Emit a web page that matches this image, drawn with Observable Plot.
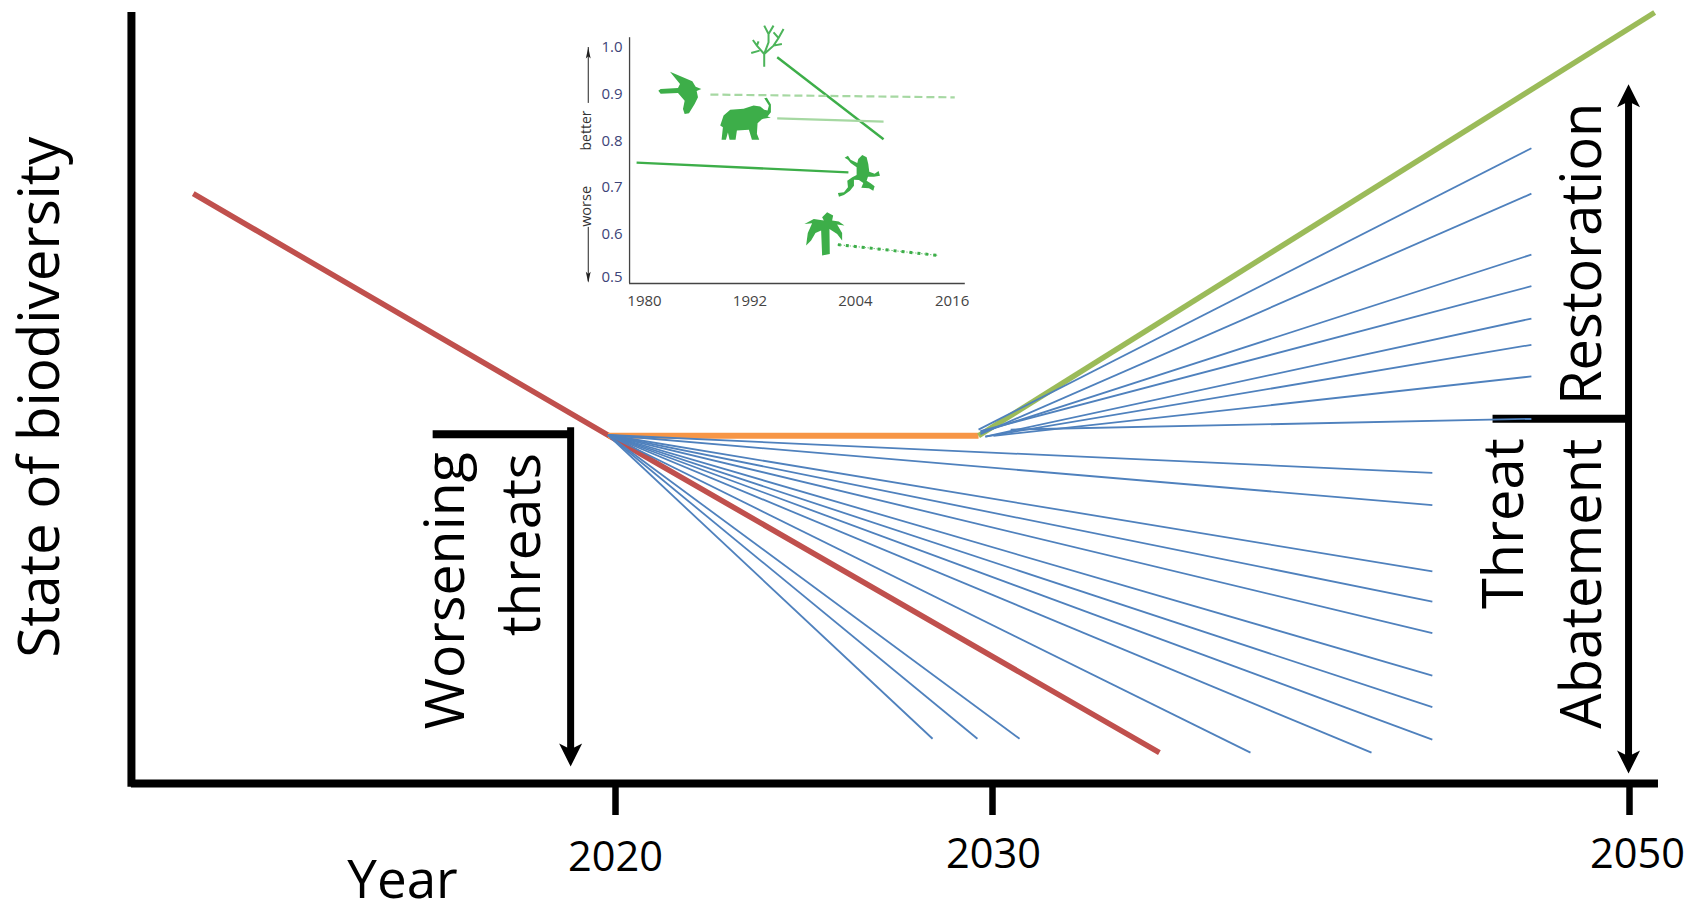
<!DOCTYPE html>
<html>
<head>
<meta charset="utf-8">
<style>
html,body{margin:0;padding:0;background:#fff;}
#wrap{position:relative;width:1700px;height:902px;overflow:hidden;}
#wrap svg{position:absolute;left:0;top:0;display:block;background:transparent;}
</style>
<script src="https://cdn.jsdelivr.net/npm/d3@7"></script>
<script src="https://cdn.jsdelivr.net/npm/@observablehq/plot@0.6"></script>
</head>
<body>
<div id="wrap"></div>
<script>
// ---- main chart data: x = year, y = state of biodiversity (arbitrary 0-100 index)
const tickYears = [2020, 2030, 2050];
const tickLabelYears = [2020, 2030.03, 2050.25];
const tickLabelStates = [-11.3, -11.0, -11.0];
const tickLabels = ["2020", "2030", "2050"];

const bauYears = [2008.8, 2019.8, 2035.24];
const bauStates = [76.5, 45.2, 4.0];
const plateauYears = [2019.8, 2029.63];
const plateauStates = [45.1, 45.1];
const recoveryYears = [2029.63, 2050.79];
const recoveryStates = [45.1, 100.0];

const fanOriginYear = 2019.8;
const fanOriginState = 45.2;
const lowerEndYears = [2043.81, 2043.81, 2043.81, 2043.81, 2043.81, 2043.81, 2043.81, 2043.81, 2041.9, 2038.1, 2030.85, 2029.6, 2028.41];
const lowerEndStates = [40.3, 36.1, 27.5, 23.6, 19.5, 14.0, 9.9, 5.7, 4.0, 4.0, 5.8, 5.8, 5.8];

const upperStartYears = [2029.63, 2029.68, 2029.68, 2029.68, 2029.81, 2029.81, 2030.03, 2030.57];
const upperStartStates = [45.9, 45.3, 45.5, 45.7, 45.0, 45.0, 45.1, 45.9];
const upperEndYears = [2046.92, 2046.92, 2046.92, 2046.92, 2046.92, 2046.92, 2046.92, 2046.92];
const upperEndStates = [82.4, 76.5, 68.6, 64.5, 60.3, 56.9, 52.8, 47.3];

const annotationTexts = ["State of biodiversity", "Worsening", "threats", "Threat", "Abatement", "Restoration"];
const annotationYears = [2005.23, 2015.97, 2018.01, 2046.67, 2049.09, 2049.12];
const annotationStates = [50.1, 25.0, 31.0, 33.7, 25.9, 68.7];
const annotationSizes = [56.5, 55.5, 55, 56, 56, 56];

// ---- inset data: x = year, y = index
const insetYLabels = [1.0, 0.9, 0.8, 0.7, 0.6, 0.5];
const insetYLabelPos = [1.0, 0.9, 0.8, 0.7, 0.6, 0.507];
const insetXLabels = [1980, 1992, 2004, 2016];
const insetXLabelPos = [1980, 1992, 2004, 2015];

const taxaNames = ["plants", "birds", "mammals", "amphibians", "palms"];
const taxaX1 = [1995.1, 1987.5, 1995.1, 1979.1, 2002.0];
const taxaX2 = [2007.2, 2015.3, 2007.2, 2003.2, 2013.3];
const taxaY1 = [0.979, 0.899, 0.848, 0.753, 0.577];
const taxaY2 = [0.803, 0.893, 0.841, 0.732, 0.554];

const iconX = [1994.0, 1984.0, 1991.5, 2004.4, 2000.4];
const iconY = [1.004, 0.903, 0.847, 0.725, 0.600];

// ---- silhouette shapes (outline of each icon around its own centre)
const birdShape = [[[328,213],[395,242],[405,258],[422,265],[408,271],[412,290],[402,310],[385,338],[372,340],[367,325],[372,300],[352,277],[300,279],[293,270],[300,265],[352,262],[358,250]]];
const elephantShape = [[[480,375],[490,345],[510,328],[550,325],[580,315],[600,318],[612,328],[622,330],[626,315],[612,293],[620,292],[632,312],[632,335],[622,348],[632,351],[605,356],[592,368],[590,400],[597,418],[575,418],[566,388],[530,390],[526,418],[508,418],[503,396],[497,418],[484,418],[488,380]]];
const frogShape = [[[893,475],[905,463],[918,470],[923,490],[926,513],[942,519],[954,511],[958,525],[940,528],[922,528],[918,540],[930,548],[942,557],[938,570],[925,563],[902,561],[908,547],[895,538],[880,537],[880,555],[868,570],[850,583],[835,588],[832,577],[850,575],[862,560],[860,540],[875,530],[888,523],[888,500],[870,487],[862,477],[852,471],[862,465],[870,477],[890,487]]];
const palmShape = [[[732,670],[760,655],[790,660],[785,650],[800,635],[818,645],[815,660],[835,663],[852,675],[830,672],[845,697],[845,720],[830,700],[807,685],[808,760],[785,765],[782,690],[765,697],[752,720],[737,735],[742,697],[755,668]]];
const treeShape = [
  [[612,198],[612,160],[640,135],[655,112],[670,85]],
  [[612,160],[625,125],[625,100],[612,75]],
  [[625,100],[640,75]],
  [[655,112],[640,95]],
  [[640,135],[665,130]],
  [[612,160],[590,135],[578,118]],
  [[590,135],[595,122]],
  [[598,150],[573,157]]
];
const iconCentres = [[622,135],[357,276],[556,355],[895,525],[790,700]];

function shapeSymbol(polys, centre, closed) {
  return {
    draw(ctx, size) {
      const k = Math.sqrt(size / Math.PI);
      for (const poly of polys) {
        poly.forEach(([a, b], i) => {
          const X = (a - centre[0]) * k, Y = (b - centre[1]) * k;
          if (i === 0) ctx.moveTo(X, Y); else ctx.lineTo(X, Y);
        });
        if (closed) ctx.closePath();
      }
    }
  };
}
const headWide = shapeSymbol([[[0,0],[0.5,1],[0,0.75],[-0.5,1]]], [0,0], true);
const headNarrow = shapeSymbol([[[0,0],[0.22,1],[0,0.8],[-0.22,1]]], [0,0], true);

const font = "Open Sans";
const zip = (a, b) => a.map((v, i) => [v, b[i]]);

// ---- main plot
const lowerFan = lowerEndYears.map((x, i) => ({x, y: lowerEndStates[i]}));
const upperFan = upperEndYears.map((x, i) => ({x0: upperStartYears[i], y0: upperStartStates[i], x, y: upperEndStates[i]}));
const annotations = annotationTexts.map((t, i) => ({t, x: annotationYears[i], y: annotationStates[i], s: annotationSizes[i]}));
const ticks = tickLabels.map((t, i) => ({t, x: tickLabelYears[i], y: tickLabelStates[i]}));

const black = {stroke: "#000", strokeLinecap: "butt"};
const main = Plot.plot({
  width: 1700, height: 902, margin: 0,
  style: {background: "transparent"},
  x: {type: "linear", domain: tickYears, range: [615, 992, 1629], axis: null},
  y: {type: "linear", domain: [0, 100], range: [783, 12], axis: null},
  marks: [
    // axes
    Plot.ruleX([2007.16], {y1: -0.5, y2: 100, stroke: "#000", strokeWidth: 8}),
    Plot.ruleY([0], {x1: 2007.16, x2: 2050.91, stroke: "#000", strokeWidth: 8}),
    Plot.ruleX(tickYears, {y1: 0, y2: -4.15, stroke: "#000", strokeWidth: 6.5}),
    Plot.text(ticks, {x: "x", y: "y", text: "t", fontFamily: font, fontSize: 41.5, fill: "#000", lineAnchor: "bottom"}),
    Plot.text(["Year"], {x: 2014.35, y: -14.9, text: d => d, fontFamily: font, fontSize: 53, fill: "#000", lineAnchor: "bottom"}),
    // brackets and arrows
    Plot.line(zip([2015.15, 2018.81], [45.3, 45.3]), {...black, strokeWidth: 8}),
    Plot.line(zip([2018.81, 2018.81], [46.2, 3.2]), {...black, strokeWidth: 7}),
    Plot.line(zip([2045.7, 2050.03], [47.3, 47.3]), {...black, strokeWidth: 8}),
    Plot.line(zip([2049.97, 2049.97], [88.6, 3.0]), {...black, strokeWidth: 7}),
    Plot.dot([[2018.81, 2.2]], {x: "0", y: "1", r: 23, symbol: headWide, fill: "#000", rotate: 180}),
    Plot.dot([[2049.97, 1.3]], {x: "0", y: "1", r: 23, symbol: headWide, fill: "#000", rotate: 180}),
    Plot.dot([[2049.97, 90.7]], {x: "0", y: "1", r: 23, symbol: headWide, fill: "#000"}),
    // rotated annotations
    ...annotations.map(a => Plot.text([a], {x: "x", y: "y", text: "t", rotate: -90, fontFamily: font, fontSize: a.s, fill: "#000", lineAnchor: "bottom"})),
    // scenario lines
    Plot.line(zip(bauYears, bauStates), {stroke: "#C0504D", strokeWidth: 5.5, strokeLinecap: "butt"}),
    Plot.line(zip(plateauYears, plateauStates), {stroke: "#F79646", strokeWidth: 6, strokeLinecap: "butt"}),
    Plot.line(zip(recoveryYears, recoveryStates), {stroke: "#9BBB59", strokeWidth: 5.5, strokeLinecap: "butt"}),
    Plot.link(lowerFan, {x1: () => fanOriginYear, y1: () => fanOriginState, x2: "x", y2: "y", stroke: "#4F81BD", strokeWidth: 1.8}),
    Plot.link(upperFan, {x1: "x0", y1: "y0", x2: "x", y2: "y", stroke: "#4F81BD", strokeWidth: 1.8})
  ]
});

// ---- inset plot
const taxa = taxaNames.map((name, i) => ({name, x1: taxaX1[i], x2: taxaX2[i], y1: taxaY1[i], y2: taxaY2[i]}));
const green = "#3DAE49", pale = "#A6D8A2";
const inkNavy = "#3d4478", inkGrey = "#444";
const icon = (i, shape, closed, opts) => Plot.dot([[iconX[i], iconY[i]]], {x: "0", y: "1", r: 1/3, symbol: shapeSymbol(shape, iconCentres[i], closed), ...opts});
const segment = (i, opts) => Plot.link([taxa[i]], {x1: "x1", y1: "y1", x2: "x2", y2: "y2", ...opts});

const inset = Plot.plot({
  width: 1700, height: 902, margin: 0,
  style: {background: "transparent"},
  x: {type: "linear", domain: [1980, 2016], range: [644, 960.4], axis: null},
  y: {type: "linear", domain: [0.5, 1.0], range: [280, 47], axis: null},
  marks: [
    Plot.ruleX([1978.3], {y1: 0.4936, y2: 1.021, stroke: "#444", strokeWidth: 1.3}),
    Plot.ruleY([0.4936], {x1: 1978.3, x2: 2016.5, stroke: "#444", strokeWidth: 1.3}),
    Plot.text(insetYLabels, {x: () => 1977.5, y: (d, i) => insetYLabelPos[i], text: d => d.toFixed(1), textAnchor: "end", fontFamily: font, fontSize: 15, fill: inkNavy}),
    Plot.text(insetXLabels, {x: (d, i) => insetXLabelPos[i], y: () => 0.455, text: d => String(d), fontFamily: font, fontSize: 15, fill: inkGrey}),
    // better / worse guide
    Plot.ruleX([1973.6], {y1: 0.88, y2: 1.0, stroke: "#222", strokeWidth: 1}),
    Plot.ruleX([1973.6], {y1: 0.497, y2: 0.614, stroke: "#222", strokeWidth: 1}),
    Plot.dot([[1973.6, 1.0]], {x: "0", y: "1", r: 11, symbol: headNarrow, fill: "#222"}),
    Plot.dot([[1973.6, 0.495]], {x: "0", y: "1", r: 11, symbol: headNarrow, fill: "#222", rotate: 180}),
    Plot.text(["better"], {x: 1973.95, y: 0.822, text: d => d, rotate: -90, fontFamily: font, fontSize: 14, fill: "#333", lineAnchor: "bottom"}),
    Plot.text(["worse"], {x: 1973.95, y: 0.659, text: d => d, rotate: -90, fontFamily: font, fontSize: 14.5, fill: "#333", lineAnchor: "bottom"}),
    // taxa trends
    segment(0, {stroke: green, strokeWidth: 2.4}),
    segment(1, {stroke: pale, strokeWidth: 2.2, strokeDasharray: "8,4"}),
    segment(2, {stroke: pale, strokeWidth: 2.2}),
    segment(3, {stroke: green, strokeWidth: 2.4}),
    segment(4, {stroke: green, strokeWidth: 3, strokeDasharray: "3,5"}),
    segment(4, {stroke: green, strokeWidth: 1, strokeDasharray: "1,2"}),
    // silhouettes
    icon(0, treeShape, false, {stroke: "#4cb45a", fill: "none", strokeWidth: 2}),
    icon(1, birdShape, true, {fill: green}),
    icon(2, elephantShape, true, {fill: green}),
    icon(3, frogShape, true, {fill: green}),
    icon(4, palmShape, true, {fill: green})
  ]
});

const wrap = document.getElementById("wrap");
wrap.appendChild(main);
wrap.appendChild(inset);
</script>
</body>
</html>
